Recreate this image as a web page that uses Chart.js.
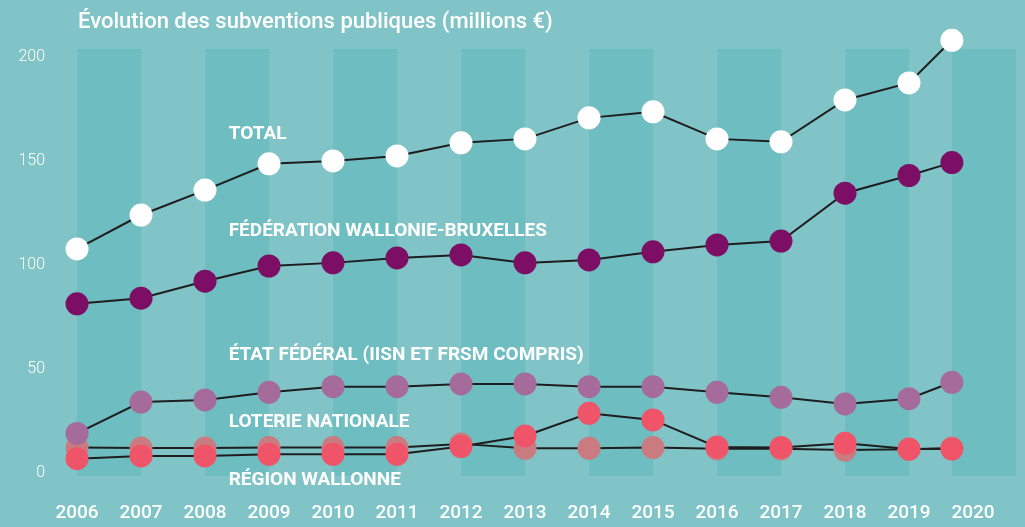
<!DOCTYPE html>
<html>
<head>
<meta charset="utf-8">
<script src="https://cdn.jsdelivr.net/npm/chart.js@4"></script>
<style>
  html, body { margin: 0; padding: 0; background: #80c4c7; }
  #wrap { width: 1025px; height: 527px; }
</style>
</head>
<body>
<div id="wrap"><canvas id="subsChart" width="1025" height="527"></canvas></div>
<script>
// Years shown on the axis
const yearTicks = [2006, 2007, 2008, 2009, 2010, 2011, 2012, 2013, 2014, 2015, 2016, 2017, 2018, 2019, 2020];
// Where the points sit on the year axis (the 2020 point is drawn a bit left of its label)
const pointYears = [2006, 2007, 2008, 2009, 2010, 2011, 2012, 2013, 2014, 2015, 2016, 2017, 2018, 2019, 2019.67];
const valueTicks = [0, 50, 100, 150, 200];

// Series values (millions €)
const total = [107.7, 124, 136, 148.6, 150, 152.4, 158.7, 160.6, 170.7, 173.6, 160.6, 159.2, 179.3, 187.5, 208];
const federationWB = [81.3, 84, 92.2, 99.5, 101, 103.4, 104.8, 101, 102.4, 106.3, 109.6, 111.5, 134.5, 143, 149.2];
const etatFederal = [19, 34.1, 35.1, 38.8, 41.5, 41.5, 42.8, 42.8, 41.5, 41.5, 38.8, 36.4, 33.2, 35.7, 43.6];
const loterieNationale = [12.2, 12, 12, 12.2, 12.2, 12.2, 14, 11.9, 11.9, 12.2, 11.6, 11.6, 11, 11.4, 12];
const regionWallonne = [6.9, 8.2, 8.2, 9, 9, 9, 12.7, 17.8, 28.7, 25.5, 12.5, 12.3, 14.3, 11.5, 11.5];

const seriesNames = ['TOTAL', 'FÉDÉRATION WALLONIE-BRUXELLES', 'ÉTAT FÉDÉRAL (IISN ET FRSM COMPRIS)', 'LOTERIE NATIONALE', 'RÉGION WALLONNE'];

// Label anchors (year, value) for the inline series names
const nameAnchors = [[2008.37, 163], [2008.37, 116.3], [2008.37, 56.7], [2008.37, 24.5], [2008.37, -3.4]];

const toPoints = (vals) => vals.map((v, i) => ({ x: pointYears[i], y: v }));

const makeSet = (label, vals, color, order) => ({
    label: label,
    data: toPoints(vals),
    borderColor: '#1e1e1e',
    borderWidth: 2,
    backgroundColor: color,
    pointBackgroundColor: color,
    pointBorderWidth: 0,
    pointRadius: 11.5,
    pointHoverRadius: 11.5,
    tension: 0,
    clip: false,
    order: order,
});

// Alternating darker column bands, drawn behind everything
const bandsPlugin = {
    id: 'bands',
    beforeDatasetsDraw(chart) {
        const { ctx, chartArea, scales } = chart;
        ctx.save();
        ctx.fillStyle = '#6ebdc0';
        for (let i = 0; i < pointYears.length; i += 2) {
            const x0 = scales.x.getPixelForValue(pointYears[i]);
            const x1 = scales.x.getPixelForValue(pointYears[i] + 1);
            ctx.fillRect(x0, chartArea.top, x1 - x0, chartArea.bottom - chartArea.top);
        }
        ctx.restore();
    }
};

// Title and inline series names
const textPlugin = {
    id: 'texts',
    afterDatasetsDraw(chart) {
        const { ctx, scales } = chart;
        ctx.save();
        ctx.fillStyle = '#ffffff';
        ctx.textBaseline = 'middle';
        ctx.textAlign = 'left';
        ctx.font = '500 22px Roboto';
        ctx.fillText('Évolution des subventions publiques (millions €)', 78, 22);
        ctx.font = 'bold 19px Roboto';
        seriesNames.forEach((name, i) => {
            const x = scales.x.getPixelForValue(nameAnchors[i][0]);
            const y = scales.y.getPixelForValue(nameAnchors[i][1]);
            ctx.fillText(name, x, y);
        });
        ctx.restore();
    }
};

const ctx = document.getElementById('subsChart').getContext('2d');
const subsChart = new Chart(ctx, {
    type: 'line',
    data: {
        datasets: [
            makeSet(seriesNames[0], total, '#ffffff', 1),
            makeSet(seriesNames[1], federationWB, '#7c0e66', 2),
            makeSet(seriesNames[2], etatFederal, '#a56b9b', 3),
            makeSet(seriesNames[3], loterieNationale, '#c97b80', 5),
            makeSet(seriesNames[4], regionWallonne, '#ef5468', 4),
        ],
    },
    options: {
        responsive: false,
        animation: false,
        layout: { padding: { top: 49, right: 12, left: 0, bottom: 0 } },
        plugins: {
            legend: { display: false },
            tooltip: { enabled: false },
            title: { display: false },
        },
        scales: {
            x: {
                type: 'linear',
                min: 2005.656,
                max: 2020.625,
                grid: { display: false, drawTicks: false },
                border: { display: false },
                afterBuildTicks: (scale) => { scale.ticks = yearTicks.map(v => ({ value: v })); },
                afterFit: (scale) => { scale.height = 51; },
                ticks: {
                    color: '#ffffff',
                    font: { family: 'Roboto', size: 19, weight: '500' },
                    padding: 26,
                    maxRotation: 0,
                    autoSkip: false,
                    callback: (v) => String(v),
                },
            },
            y: {
                min: -1.44,
                max: 203.8,
                grid: { display: false, drawTicks: false },
                border: { display: false },
                afterBuildTicks: (scale) => { scale.ticks = valueTicks.map(v => ({ value: v })); },
                afterFit: (scale) => { scale.width = 55; },
                ticks: {
                    color: '#ffffff',
                    font: { family: 'Roboto', size: 16, weight: '300' },
                    padding: 10,
                },
            },
        },
    },
    plugins: [bandsPlugin, textPlugin],
});
</script>
</body>
</html>
